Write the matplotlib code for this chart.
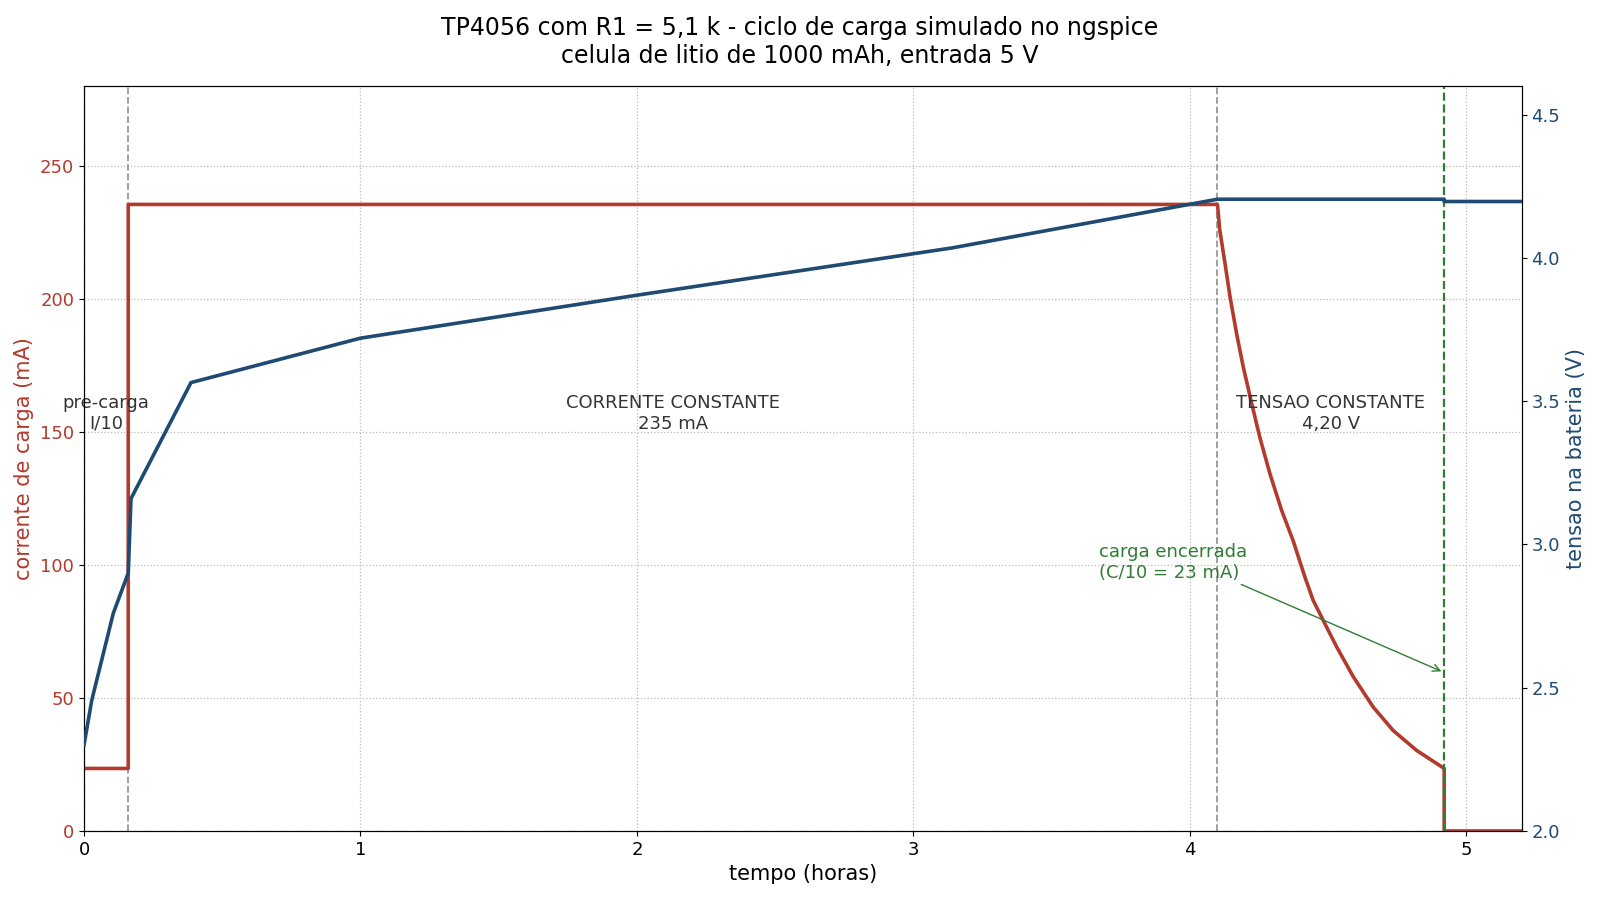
import matplotlib
matplotlib.use("Agg")
import matplotlib.pyplot as plt

# corrente de carga (mA)
t_corrente = [0.0, 0.16, 0.16, 4.10, 4.108, 4.127, 4.145, 4.169, 4.193, 4.223,
              4.253, 4.289, 4.332, 4.374, 4.416, 4.446, 4.488, 4.531, 4.591,
              4.663, 4.735, 4.82, 4.92, 4.92, 5.20]
corrente = [23.5, 23.5, 235.5, 235.5, 226.0, 213.5, 201.0, 187.0, 174.5, 161.0,
            148.0, 134.5, 120.5, 109.0, 95.5, 86.7, 78.0, 69.2, 58.0,
            46.6, 37.8, 30.3, 23.5, 0.0, 0.0]

# tensao na bateria (V)
t_tensao = [0.0, 0.028, 0.106, 0.16, 0.17, 0.387, 1.0, 2.0, 3.14, 4.10, 4.92, 4.92, 5.20]
tensao = [2.30, 2.456, 2.76, 2.90, 3.16, 3.565, 3.72, 3.87, 4.035, 4.205, 4.205, 4.197, 4.197]

t_fim_precarga = 0.16
t_inicio_cv = 4.10
t_fim_carga = 4.92

cor_i = "#b23b2e"
cor_v = "#1f4a72"
cor_fim = "#2e7d32"

fig = plt.figure(figsize=(16, 9), dpi=100)
ax = fig.add_axes([0.0525, 0.0767, 0.8985, 0.8277])
ax2 = ax.twinx()

ax.plot(t_corrente, corrente, color=cor_i, lw=2.6, zorder=3)
ax2.plot(t_tensao, tensao, color=cor_v, lw=2.6, zorder=3)

ax.axvline(t_fim_precarga, color="#999999", ls="--", lw=1.3, zorder=2)
ax.axvline(t_inicio_cv, color="#999999", ls="--", lw=1.3, zorder=2)
ax.axvline(t_fim_carga, color=cor_fim, ls="--", lw=1.6, zorder=4)

ax.set_xlim(0, 5.2)
ax.set_ylim(0, 280)
ax2.set_ylim(2.0, 4.6)
ax.set_yticks([0, 50, 100, 150, 200, 250])
ax2.set_yticks([2.0, 2.5, 3.0, 3.5, 4.0, 4.5])
ax.grid(True, ls=":", color="#bbbbbb", lw=0.9)

ax.set_xlabel("tempo (horas)", fontsize=15)
ax.set_ylabel("corrente de carga (mA)", fontsize=15, color=cor_i)
ax2.set_ylabel("tensao na bateria (V)", fontsize=15, color=cor_v)
ax.tick_params(axis="x", labelsize=13)
ax.tick_params(axis="y", labelsize=13, labelcolor=cor_i)
ax2.tick_params(axis="y", labelsize=13, labelcolor=cor_v)

fig.suptitle("TP4056 com R1 = 5,1 k - ciclo de carga simulado no ngspice\n"
             "celula de litio de 1000 mAh, entrada 5 V",
             fontsize=17, y=0.982)

ax.text(0.08, 157, "pre-carga\nI/10", ha="center", va="center", fontsize=13, color="#333333")
ax.text(2.13, 157, "CORRENTE CONSTANTE\n235 mA", ha="center", va="center", fontsize=13, color="#333333")
ax.text(4.51, 157, "TENSAO CONSTANTE\n4,20 V", ha="center", va="center", fontsize=13, color="#333333")

ax.annotate("carga encerrada\n(C/10 = 23 mA)", xy=(t_fim_carga - 0.01, 60), xytext=(3.67, 101),
            fontsize=13, color=cor_fim, ha="left", va="center",
            arrowprops=dict(arrowstyle="->", color=cor_fim, lw=1.0,
                            shrinkA=0, shrinkB=0, relpos=(0.92, 0.0)))

fig.savefig("out.png")
